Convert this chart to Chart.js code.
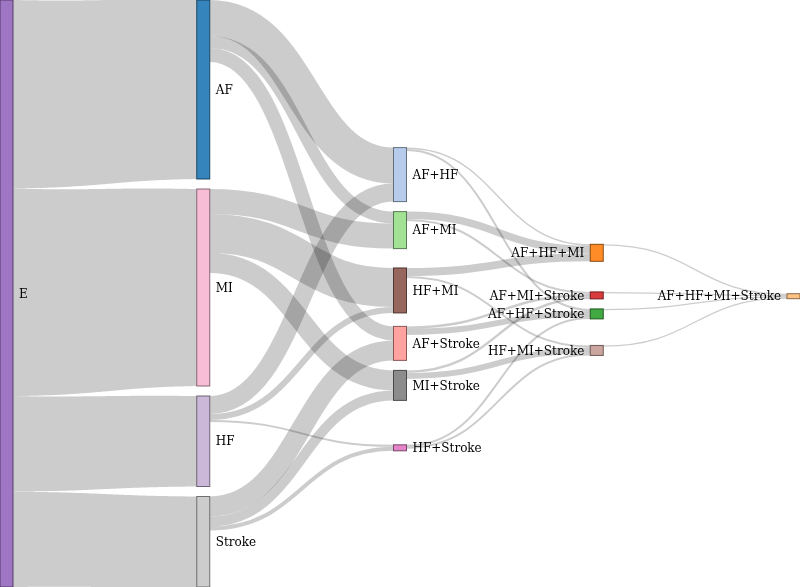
<!DOCTYPE html>
<html>
<head>
<meta charset="utf-8">
<script src="https://cdn.jsdelivr.net/npm/chart.js@4.4.1/dist/chart.umd.min.js"></script>
<style>
html,body{margin:0;padding:0;background:#fff;}
#wrap{width:800px;height:587px;position:relative;}
</style>
</head>
<body>
<div id="wrap"><canvas id="c"></canvas></div>
<script>
// ---------------- data ----------------
const nodeNames = ['E','AF','MI','HF','Stroke',
                   'AF+HF','AF+MI','HF+MI','AF+Stroke','MI+Stroke','HF+Stroke',
                   'AF+HF+MI','AF+MI+Stroke','AF+HF+Stroke','HF+MI+Stroke',
                   'AF+HF+MI+Stroke'];
const nodeColors = ['#9467bd','#1f77b4','#f7b6d2','#c5b0d5','#c7c7c7',
                    '#aec7e8','#98df8a','#8c564b','#ff9896','#7f7f7f','#e377c2',
                    '#ff7f0e','#d62728','#2ca02c','#c49c94',
                    '#ffbb78'];
// size of the whole cohort (start node)
const cohortNode = 'E';
const cohortSize = 587;

const linkSources = ['E','E','E','E',
  'AF','AF','AF',
  'MI','MI','MI',
  'HF','HF','HF',
  'Stroke','Stroke','Stroke',
  'AF+HF','AF+HF',
  'AF+MI','AF+MI',
  'HF+MI','HF+MI',
  'AF+Stroke','AF+Stroke',
  'MI+Stroke','MI+Stroke',
  'HF+Stroke','HF+Stroke',
  'AF+HF+MI','AF+MI+Stroke','AF+HF+Stroke','HF+MI+Stroke'];
const linkTargets = ['AF','MI','HF','Stroke',
  'AF+HF','AF+MI','AF+Stroke',
  'AF+MI','HF+MI','MI+Stroke',
  'AF+HF','HF+MI','HF+Stroke',
  'AF+Stroke','MI+Stroke','HF+Stroke',
  'AF+HF+MI','AF+HF+Stroke',
  'AF+HF+MI','AF+MI+Stroke',
  'AF+HF+MI','HF+MI+Stroke',
  'AF+MI+Stroke','AF+HF+Stroke',
  'AF+MI+Stroke','HF+MI+Stroke',
  'AF+HF+Stroke','HF+MI+Stroke',
  'AF+HF+MI+Stroke','AF+HF+MI+Stroke','AF+HF+MI+Stroke','AF+HF+MI+Stroke'];
const linkValues = [179, 197, 90.5, 90.5,
  36, 12, 14,
  25, 39, 20,
  18, 6, 2,
  20, 10, 4,
  1.5, 2,
  7.5, 2,
  8, 2,
  2.5, 6,
  2.5, 6,
  2, 2,
  1.25, 1.25, 1.25, 1.25];

// ---------------- layout settings ----------------
const NODE_W = 13;      // px
const NODE_PAD = 10;    // value units (1 unit = 1 px here)
const ITERATIONS = 120;

function buildSankey(){
  const sum = (a,f)=>a.reduce((s,d)=>s+f(d),0);
  const nodes = nodeNames.map((name,i)=>({name, index:i, color:nodeColors[i], sourceLinks:[], targetLinks:[]}));
  const byName = {}; nodes.forEach(n=>byName[n.name]=n);
  const links = linkValues.map((v,k)=>({index:k, source:byName[linkSources[k]], target:byName[linkTargets[k]], value:v}));
  links.forEach(l=>{l.source.sourceLinks.push(l); l.target.targetLinks.push(l);});
  nodes.forEach(n=>{
    n.value = Math.max(sum(n.sourceLinks,l=>l.value), sum(n.targetLinks,l=>l.value), n.name===cohortNode?cohortSize:0);
  });
  let current = new Set(nodes), next, x=0;
  while(current.size){
    next = new Set();
    for(const n of current){ n.depth=x; for(const l of n.sourceLinks) next.add(l.target); }
    x++; current=next;
  }
  const nCols = x;
  nodes.forEach(n=>{ n.col = n.sourceLinks.length ? n.depth : nCols-1; });
  const columns=[]; for(let c=0;c<nCols;c++) columns.push(nodes.filter(n=>n.col===c));
  const H = Math.max(...columns.map(c=>sum(c,n=>n.value)+(c.length-1)*NODE_PAD));
  const Y0 = 0, Y1 = H;
  const py = Math.min(NODE_PAD, (Y1-Y0)/(Math.max(...columns.map(c=>c.length))-1));

  const ascBreadth=(a,b)=>a.y0-b.y0;
  const ascSrc=(a,b)=>ascBreadth(a.source,b.source)||a.index-b.index;
  const ascTgt=(a,b)=>ascBreadth(a.target,b.target)||a.index-b.index;
  function reorderLinks(ns){ ns.forEach(n=>{ n.sourceLinks.sort(ascTgt); n.targetLinks.sort(ascSrc); }); }
  function reorderNodeLinks(n){
    for(const l of n.targetLinks) l.source.sourceLinks.sort(ascTgt);
    for(const l of n.sourceLinks) l.target.targetLinks.sort(ascSrc);
  }
  const ky = Math.min(...columns.map(c=>(Y1-Y0-(c.length-1)*py)/sum(c,n=>n.value)));
  for(const c of columns){
    let y=Y0;
    for(const n of c){ n.y0=y; n.y1=y+n.value*ky; y=n.y1+py; for(const l of n.sourceLinks) l.width=l.value*ky; }
    y=(Y1-y+py)/(c.length+1);
    c.forEach((n,i)=>{ n.y0+=y*(i+1); n.y1+=y*(i+1); });
    reorderLinks(c);
  }
  function targetTop(s,t){
    let y=s.y0-(s.sourceLinks.length-1)*py/2;
    for(const l of s.sourceLinks){ if(l.target===t) break; y+=l.width+py; }
    for(const l of t.targetLinks){ if(l.source===s) break; y-=l.width; }
    return y;
  }
  function sourceTop(s,t){
    let y=t.y0-(t.targetLinks.length-1)*py/2;
    for(const l of t.targetLinks){ if(l.source===s) break; y+=l.width+py; }
    for(const l of s.sourceLinks){ if(l.target===t) break; y-=l.width; }
    return y;
  }
  function topToBottom(ns,y,i,a){ for(;i<ns.length;++i){ const n=ns[i]; const d=(y-n.y0)*a; if(d>1e-6){n.y0+=d;n.y1+=d;} y=n.y1+py; } }
  function bottomToTop(ns,y,i,a){ for(;i>=0;--i){ const n=ns[i]; const d=(n.y1-y)*a; if(d>1e-6){n.y0-=d;n.y1-=d;} y=n.y0; } }
  function resolve(ns,a){
    const i=ns.length>>1, s=ns[i];
    bottomToTop(ns,s.y0-py,i-1,a);
    topToBottom(ns,s.y1+py,i+1,a);
    bottomToTop(ns,Y1,ns.length-1,a);
    topToBottom(ns,Y0,0,a);
  }
  function relaxLR(alpha,beta){
    for(let i=1;i<columns.length;i++){
      const c=columns[i];
      for(const t of c){
        let y=0,w=0;
        for(const l of t.targetLinks){ const v=l.value*(t.col-l.source.col); y+=targetTop(l.source,t)*v; w+=v; }
        if(!(w>0)) continue;
        const d=(y/w-t.y0)*alpha; t.y0+=d; t.y1+=d; reorderNodeLinks(t);
      }
      resolve(c,beta);
    }
  }
  function relaxRL(alpha,beta){
    for(let i=columns.length-2;i>=0;i--){
      const c=columns[i];
      for(const s of c){
        let y=0,w=0;
        for(const l of s.sourceLinks){ const v=l.value*(l.target.col-s.col); y+=sourceTop(s,l.target)*v; w+=v; }
        if(!(w>0)) continue;
        const d=(y/w-s.y0)*alpha; s.y0+=d; s.y1+=d; reorderNodeLinks(s);
      }
      resolve(c,beta);
    }
  }
  for(let i=0;i<ITERATIONS;i++){
    const alpha=Math.pow(0.99,i), beta=Math.max(1-alpha,(i+1)/ITERATIONS);
    relaxRL(alpha,beta);
    relaxLR(alpha,beta);
  }
  reorderLinks(nodes);
  nodes.forEach(n=>{
    const outSum = sum(n.sourceLinks,l=>l.width);
    const scale = (!n.targetLinks.length && outSum>0) ? (n.y1-n.y0)/outSum : 1;
    let sy=0, ty=0;
    n.sourceLinks.forEach(l=>{ l.sy=sy; l.sw=l.width*scale; sy+=l.sw; });
    n.targetLinks.forEach(l=>{ l.ty=ty; l.tw=l.width; ty+=l.width; });
  });
  return {nodes, links, H, maxCol:nCols-1};
}

const graph = buildSankey();

function darker(hex,k){
  const f=Math.pow(0.7,k);
  const r=parseInt(hex.slice(1,3),16), g=parseInt(hex.slice(3,5),16), b=parseInt(hex.slice(5,7),16);
  return 'rgb('+Math.round(r*f)+','+Math.round(g*f)+','+Math.round(b*f)+')';
}

const sankeyPlugin = {
  id:'sankeyDraw',
  afterDatasetsDraw(chart){
    const ctx=chart.ctx, xs=chart.scales.x, ys=chart.scales.y;
    const unit = Math.abs(ys.getPixelForValue(1)-ys.getPixelForValue(0));
    ctx.save();
    graph.links.forEach(l=>{
      const x0 = xs.getPixelForValue(l.source.col)+NODE_W;
      const x1 = xs.getPixelForValue(l.target.col);
      const ws = l.sw*unit, wt = l.tw*unit;
      const y0 = ys.getPixelForValue(l.source.y0+l.sy)+ws/2;
      const y1 = ys.getPixelForValue(l.target.y0+l.ty)+wt/2;
      const xm = (x0+x1)/2;
      if(Math.abs(ws-wt)<0.01){
        ctx.beginPath();
        ctx.moveTo(x0,y0);
        ctx.bezierCurveTo(xm,y0,xm,y1,x1,y1);
        ctx.lineWidth=Math.max(1,ws);
        ctx.strokeStyle='rgba(0,0,0,0.2)';
        ctx.stroke();
      } else {
        const N=80, top=[], bot=[];
        for(let i=0;i<=N;i++){
          const t=i/N, mt=1-t;
          const px = mt*mt*mt*x0 + 3*mt*mt*t*xm + 3*mt*t*t*xm + t*t*t*x1;
          const py = mt*mt*mt*y0 + 3*mt*mt*t*y0 + 3*mt*t*t*y1 + t*t*t*y1;
          let dx = 3*mt*mt*(xm-x0) + 3*t*t*(x1-xm);
          let dy = 6*mt*t*(y1-y0);
          const len=Math.hypot(dx,dy)||1; dx/=len; dy/=len;
          const w=(ws+(wt-ws)*t)/2;
          top.push([px+dy*w, py-dx*w]);
          bot.push([px-dy*w, py+dx*w]);
        }
        ctx.beginPath();
        ctx.moveTo(top[0][0],top[0][1]);
        for(let i=1;i<top.length;i++) ctx.lineTo(top[i][0],top[i][1]);
        for(let i=bot.length-1;i>=0;i--) ctx.lineTo(bot[i][0],bot[i][1]);
        ctx.closePath();
        ctx.fillStyle='rgba(0,0,0,0.2)';
        ctx.fill('nonzero');
      }
    });
    const midX = (chart.chartArea.left+chart.chartArea.right+NODE_W)/2;
    graph.nodes.forEach(n=>{
      const x = xs.getPixelForValue(n.col);
      const yTop = ys.getPixelForValue(n.y0);
      const h = (n.y1-n.y0)*unit;
      ctx.globalAlpha=0.9;
      ctx.fillStyle=n.color;
      ctx.fillRect(x,yTop,NODE_W,h);
      ctx.lineWidth=1;
      ctx.strokeStyle=darker(n.color,2);
      ctx.strokeRect(x,yTop,NODE_W,h);
      ctx.globalAlpha=1;
      ctx.font='12px "DejaVu Serif"';
      ctx.fillStyle='#000';
      const cy = yTop+h/2+4.2;
      if(x < midX){ ctx.textAlign='left'; ctx.fillText(n.name, x+NODE_W+6, cy); }
      else { ctx.textAlign='right'; ctx.fillText(n.name, x-6, cy); }
    });
    ctx.restore();
  }
};

new Chart(document.getElementById('c'), {
  type:'scatter',
  data:{ datasets:[{ data: graph.nodes.map(n=>({x:n.col, y:(n.y0+n.y1)/2})), pointRadius:0, pointHoverRadius:0 }] },
  options:{
    responsive:true, maintainAspectRatio:false, animation:false,
    layout:{ padding:{left:0, right:NODE_W, top:0, bottom:0} },
    plugins:{ legend:{display:false}, tooltip:{enabled:false} },
    events:[],
    scales:{
      x:{ type:'linear', min:0, max:graph.maxCol, display:false },
      y:{ type:'linear', min:0, max:graph.H, reverse:true, display:false }
    }
  },
  plugins:[sankeyPlugin]
});
</script>
</body>
</html>
